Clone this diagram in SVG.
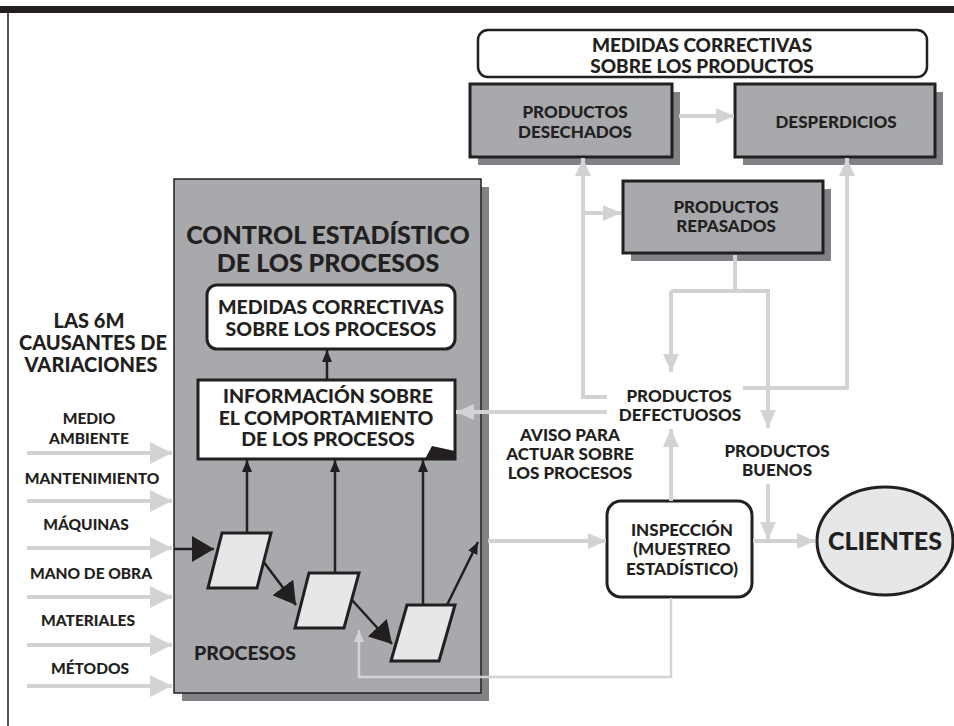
<svg xmlns="http://www.w3.org/2000/svg" width="954" height="726" viewBox="0 0 954 726">
<style>
text{font-family:Lato,"Open Sans","Liberation Sans",sans-serif;font-weight:900;fill:#231f20;text-anchor:middle}
.gbox{fill:#a7a9ac;stroke:#231f20;stroke-width:3}
.shadow{fill:#808285}
.wbox{fill:#fff;stroke:#231f20;stroke-width:3}
.para{fill:#e6e7e8;stroke:#231f20;stroke-width:3}
.gl{fill:none;stroke:#d1d3d4;stroke-width:4}
.gthin{fill:none;stroke:#d1d3d4;stroke-width:2.5}
.bl{fill:none;stroke:#231f20;stroke-width:2.5}
.t17{font-size:17px}.t15{font-size:15.5px}.t19{font-size:19px}
</style>
<defs>
<marker id="gbig" markerUnits="userSpaceOnUse" markerWidth="22" markerHeight="22" refX="22" refY="11" orient="auto"><path d="M0,0L22,11L0,22z" fill="#d1d3d4"/></marker>
<marker id="gar" markerUnits="userSpaceOnUse" markerWidth="18" markerHeight="18" refX="18" refY="9" orient="auto"><path d="M0,1L18,9L0,17z" fill="#d1d3d4"/></marker>
<marker id="gsm" markerUnits="userSpaceOnUse" markerWidth="12" markerHeight="12" refX="12" refY="6" orient="auto"><path d="M0,1L12,6L0,11z" fill="#d1d3d4"/></marker>
<marker id="bbig" markerUnits="userSpaceOnUse" markerWidth="22" markerHeight="26" refX="22" refY="13" orient="auto"><path d="M0,0L22,13L0,26z" fill="#231f20"/></marker>
<marker id="bsm" markerUnits="userSpaceOnUse" markerWidth="12" markerHeight="12" refX="12" refY="6" orient="auto"><path d="M0,1L12,6L0,11z" fill="#231f20"/></marker>
</defs>
<rect x="0" y="6" width="954" height="7" fill="#231f20"/>
<line x1="8" y1="13" x2="8" y2="726" stroke="#231f20" stroke-width="1.5"/>

<g id="control">
<rect class="shadow" x="182" y="187" width="307" height="514"/>
<rect x="174" y="179" width="307" height="514" fill="#a7a9ac" stroke="#231f20" stroke-width="1.5"/>
<text style="font-size:25px"><tspan x="328" y="244">CONTROL ESTADÍSTICO</tspan><tspan x="328" y="272">DE LOS PROCESOS</tspan></text>
<text x="245" y="660" style="font-size:19.5px">PROCESOS</text>
</g>

<g id="medidas-procesos">
<rect class="wbox" x="207" y="285" width="248" height="64" rx="10"/>
<text style="font-size:19.5px"><tspan x="331" y="314">MEDIDAS CORRECTIVAS</tspan><tspan x="331" y="336">SOBRE LOS PROCESOS</tspan></text>
</g>

<g id="informacion">
<rect class="wbox" x="198" y="380" width="257" height="79"/>
<text style="font-size:19.5px"><tspan x="328" y="403">INFORMACIÓN SOBRE</tspan><tspan x="326" y="424.5">EL COMPORTAMIENTO</tspan><tspan x="328" y="446">DE LOS PROCESOS</tspan></text>
<path d="M425,459L432,446L455,451L455,459z" fill="#231f20"/>
</g>

<g id="proceso1"><polygon class="para" points="222,533 271,533 257,588 208,588"/></g>
<g id="proceso2"><polygon class="para" points="309,573 359,573 344,628 295,628"/></g>
<g id="proceso3"><polygon class="para" points="407,605 455,605 439,661 391,661"/></g>

<g id="causas">
<text style="font-size:20px"><tspan x="89" y="328">LAS 6M</tspan><tspan x="93" y="350">CAUSANTES DE</tspan><tspan x="91" y="372">VARIACIONES</tspan></text>
<text class="t15"><tspan x="89" y="424">MEDIO</tspan><tspan x="89" y="444">AMBIENTE</tspan></text>
<text x="92" y="484" class="t15">MANTENIMIENTO</text>
<text x="86" y="530" class="t15">MÁQUINAS</text>
<text x="91" y="579" class="t15">MANO DE OBRA</text>
<text x="88" y="626" class="t15">MATERIALES</text>
<text x="90" y="674" class="t15">MÉTODOS</text>
</g>

<g id="medidas-productos">
<rect x="478" y="30" width="449" height="47" rx="10" fill="#fff" stroke="#231f20" stroke-width="2.5"/>
<text class="t19"><tspan x="702" y="52">MEDIDAS CORRECTIVAS</tspan><tspan x="702" y="73">SOBRE LOS PRODUCTOS</tspan></text>
</g>

<g id="desechados">
<rect class="shadow" x="478" y="92" width="202" height="73"/>
<rect class="gbox" x="470" y="84" width="202" height="73"/>
<text class="t17"><tspan x="575" y="118">PRODUCTOS</tspan><tspan x="575" y="138">DESECHADOS</tspan></text>
</g>
<g id="desperdicios">
<rect class="shadow" x="743" y="92" width="200" height="73"/>
<rect class="gbox" x="735" y="84" width="200" height="73"/>
<text x="836" y="128" class="t17">DESPERDICIOS</text>
</g>
<g id="repasados">
<rect class="shadow" x="631" y="189" width="200" height="72"/>
<rect class="gbox" x="623" y="181" width="200" height="72"/>
<text class="t17"><tspan x="726" y="213">PRODUCTOS</tspan><tspan x="726" y="232">REPASADOS</tspan></text>
</g>

<g id="defectuosos">
<text class="t17"><tspan x="679" y="402">PRODUCTOS</tspan><tspan x="680" y="421">DEFECTUOSOS</tspan></text>
</g>
<g id="aviso">
<text class="t17"><tspan x="570" y="441">AVISO PARA</tspan><tspan x="570" y="460">ACTUAR SOBRE</tspan><tspan x="570" y="479">LOS PROCESOS</tspan></text>
</g>
<g id="buenos">
<text class="t17"><tspan x="777" y="457">PRODUCTOS</tspan><tspan x="777" y="476">BUENOS</tspan></text>
</g>

<g id="inspeccion">
<rect class="wbox" x="607" y="501" width="145" height="96" rx="14"/>
<text class="t17"><tspan x="682" y="536">INSPECCIÓN</tspan><tspan x="682" y="555">(MUESTREO</tspan><tspan x="682" y="575">ESTADÍSTICO)</tspan></text>
</g>

<g id="clientes">
<ellipse cx="885" cy="541" rx="68" ry="54" fill="#e6e7e8" stroke="#231f20" stroke-width="3"/>
<text x="885" y="550" style="font-size:25px">CLIENTES</text>
</g>

<g id="connectors">
<line class="gl" x1="27" y1="453" x2="172" y2="453" marker-end="url(#gbig)"/>
<line class="gl" x1="27" y1="501" x2="172" y2="501" marker-end="url(#gbig)"/>
<line class="gl" x1="27" y1="548" x2="172" y2="548" marker-end="url(#gbig)"/>
<line class="gl" x1="27" y1="597" x2="172" y2="597" marker-end="url(#gbig)"/>
<line class="gl" x1="27" y1="645" x2="172" y2="645" marker-end="url(#gbig)"/>
<line class="gl" x1="27" y1="686" x2="172" y2="686" marker-end="url(#gbig)"/>

<line class="gl" x1="679" y1="116" x2="734" y2="116" marker-end="url(#gar)"/>
<polyline class="gl" points="607,397 583,397 583,158" marker-end="url(#gar)"/>
<line class="gl" x1="583" y1="213" x2="621" y2="213" marker-end="url(#gar)"/>
<polyline class="gl" points="743,388 847,388 847,158" marker-end="url(#gar)"/>
<line class="gl" x1="735" y1="255" x2="735" y2="291"/>
<polyline class="gl" points="671,291 768,291 768,428" marker-end="url(#gar)"/>
<line class="gl" x1="671" y1="291" x2="671" y2="372" marker-end="url(#gar)"/>
<line class="gl" x1="607" y1="412" x2="456" y2="412" marker-end="url(#gar)"/>
<line class="gl" x1="671" y1="501" x2="671" y2="429" marker-end="url(#gar)"/>
<line class="gl" x1="768" y1="484" x2="768" y2="540" marker-end="url(#gar)"/>
<line class="gl" x1="488" y1="541" x2="606" y2="541" marker-end="url(#gar)"/>
<line class="gl" x1="753" y1="541" x2="815" y2="541" marker-end="url(#gar)"/>
<polyline class="gthin" points="671,598 671,677 359,677 359,630" marker-end="url(#gsm)"/>

<line class="bl" x1="327" y1="380" x2="327" y2="350" marker-end="url(#bsm)"/>
<line class="bl" x1="247" y1="533" x2="247" y2="460" marker-end="url(#bsm)"/>
<line class="bl" x1="335" y1="573" x2="335" y2="460" marker-end="url(#bsm)"/>
<line class="bl" x1="423" y1="605" x2="423" y2="460" marker-end="url(#bsm)"/>
<line class="bl" x1="174" y1="549" x2="214" y2="549" marker-end="url(#bbig)"/>
<line class="bl" x1="263" y1="561" x2="296" y2="605" marker-end="url(#bbig)"/>
<line class="bl" x1="352" y1="600" x2="392" y2="644" marker-end="url(#bbig)"/>
<line class="bl" x1="447" y1="605" x2="478" y2="542" marker-end="url(#bsm)"/>
</g>
</svg>
